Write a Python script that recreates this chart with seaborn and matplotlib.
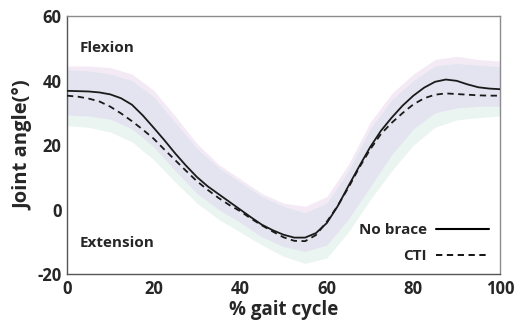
import numpy as np
import pandas as pd
import matplotlib
matplotlib.use("Agg")
import matplotlib.pyplot as plt
import seaborn as sns
from matplotlib.lines import Line2D

# ---- data ----
gait = [0, 2.5, 5, 7.5, 10, 12.5, 15, 17.5, 20, 22.5, 25, 27.5, 30, 32.5, 35, 37.5,
        40, 42.5, 45, 47.5, 50, 52.5, 55, 57.5, 60, 62.5, 65, 67.5, 70, 72.5, 75,
        77.5, 80, 82.5, 85, 87.5, 90, 92.5, 95, 97.5, 100]
no_brace = [36.8, 36.7, 36.6, 36.3, 35.7, 34.5, 32.5, 29.2, 25.4, 21.5, 17.4, 13.6,
            10.1, 7.2, 4.8, 2.4, 0.0, -2.4, -4.7, -6.4, -7.8, -8.7, -8.7, -7.3, -4.2,
            1.0, 7.3, 13.4, 19.3, 24.4, 28.5, 32.2, 35.3, 37.8, 39.6, 40.3, 39.9,
            38.8, 37.9, 37.5, 37.3]
cti = [35.3, 35.0, 34.4, 33.5, 31.9, 29.8, 27.4, 24.8, 22.0, 18.6, 15.3, 12.0, 8.8,
       6.1, 3.6, 1.4, -0.5, -2.8, -4.9, -6.8, -8.6, -9.7, -9.8, -7.9, -3.8, 1.1, 6.8,
       13.0, 18.6, 23.4, 26.9, 29.9, 32.6, 34.5, 35.6, 36.0, 35.8, 35.6, 35.4, 35.3,
       35.3]

band_x = [0, 5, 10, 15, 20, 25, 30, 35, 40, 45, 50, 55, 60, 65, 70, 75, 80, 85, 90, 95, 100]
no_brace_upper = [44.5, 44.5, 44, 42, 37, 29, 20.5, 14, 9.5, 5, 2, 1, 4, 14, 27, 36, 42,
                  46.5, 47.5, 46.5, 46]
no_brace_lower = [29.3, 29, 28, 25, 19.5, 12, 5, 0, -4, -8.5, -11.5, -13, -11, -3, 7,
                  17, 25, 30, 31.5, 32, 32]
cti_upper = [43.3, 43, 42, 40, 35, 27, 19, 13, 8.5, 4, 1, -1, 2, 12, 25, 34, 40, 44.5,
             45.3, 44.8, 44.3]
cti_lower = [26, 25.5, 24, 21, 15.5, 8.5, 2, -3, -7, -11, -14.5, -16.7, -15, -7, 3, 12,
             20, 25.5, 27.8, 28.5, 29]

x_ticks = [0, 20, 40, 60, 80, 100]
y_ticks = [-20, 0, 20, 40, 60]
labels = ["No brace", "CTI"]

# ---- plotting ----
sns.set_style("white")
plt.rcParams['font.family'] = ['Open Sans', 'DejaVu Sans']

df = pd.DataFrame({
    "gait": gait * 2,
    "angle": no_brace + cti,
    "cond": [labels[0]] * len(gait) + [labels[1]] * len(gait),
})

fig = plt.figure(figsize=(5.23, 3.33), dpi=100)
ax = fig.add_axes([0.128, 0.177, 0.828, 0.775])

bx = np.array(band_x)
nbu, nbl = np.array(no_brace_upper), np.array(no_brace_lower)
cu, cl = np.array(cti_upper), np.array(cti_lower)
ax.fill_between(bx, nbl, nbu, color="#f4eaf6", lw=0, zorder=1)
ax.fill_between(bx, cl, cu, color="#eaf5f1", lw=0, zorder=1)
ax.fill_between(bx, np.maximum(nbl, cl), np.minimum(nbu, cu), color="#e4e4f1", lw=0, zorder=1.5)

sns.lineplot(data=df, x="gait", y="angle", hue="cond", style="cond",
             palette={labels[0]: "#1a1a1a", labels[1]: "#1a1a1a"},
             dashes={labels[0]: "", labels[1]: (3.5, 2.5)},
             linewidth=1.3, ax=ax, legend=False, zorder=3)

ax.set_xlim(0, 100)
ax.set_ylim(-20, 60)
ax.set_xticks(x_ticks)
ax.set_yticks(y_ticks)
ax.set_xticklabels([str(t) for t in x_ticks], fontweight="bold", fontsize=12)
ax.set_yticklabels([str(t) for t in y_ticks], fontweight="bold", fontsize=12)
ax.tick_params(axis="both", direction="in", length=4, width=0.8, color="#555555", pad=4)
ax.set_xlabel("% gait cycle", fontweight="bold", fontsize=13.5, labelpad=2)
ax.set_ylabel("Joint angle(°)", fontweight="bold", fontsize=14.5, labelpad=3)

for side in ["left", "bottom"]:
    ax.spines[side].set_color("#555555")
    ax.spines[side].set_linewidth(1.0)
for side in ["top", "right"]:
    ax.spines[side].set_color("#8c8c8c")
    ax.spines[side].set_linewidth(1.0)

ax.text(3, 50, "Flexion", fontweight="bold", fontsize=11, va="center", ha="left")
ax.text(3, -10.5, "Extension", fontweight="bold", fontsize=11, va="center", ha="left")

handles = [Line2D([], [], color="black", lw=1.5, ls="-"),
           Line2D([], [], color="black", lw=1.3, ls=(0, (3.5, 2.5)))]
ax.legend(handles, labels, loc="lower right", frameon=False, markerfirst=False,
          handlelength=3.5, handletextpad=0.6, labelspacing=0.8,
          prop={"weight": "bold", "size": 11}, bbox_to_anchor=(1.0, 0.0),
          borderaxespad=0.3)

fig.savefig("out.png", dpi=100)
